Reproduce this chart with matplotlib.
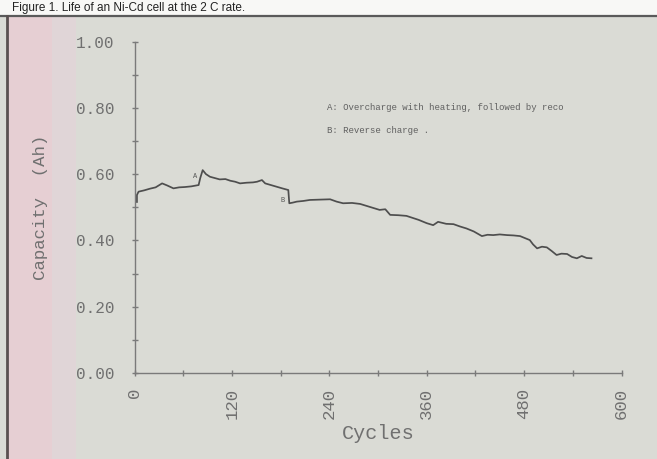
import matplotlib
matplotlib.use("Agg")
import matplotlib.pyplot as plt
from matplotlib.patches import Rectangle
from matplotlib.lines import Line2D

# Capacity vs. cycle life of the test cell
cycles = [3, 3, 5, 12, 19, 26, 34, 40, 48, 55, 62, 70, 79, 81, 84, 88, 93,
          99, 105, 112, 118, 124, 130, 138, 146, 151, 157, 161, 168, 175,
          182, 189.5, 190.7, 195, 200, 208, 216, 228, 241, 249, 257, 268,
          278, 290, 302, 309, 315, 325, 335, 340, 350, 360, 368, 374, 384,
          393, 401, 409, 418, 428, 435, 442, 450, 459, 467, 475, 481, 487,
          491, 496, 502, 508, 514, 520, 526, 533, 539, 545, 551, 557, 563]
capacity = [0.516, 0.537, 0.547, 0.551, 0.556, 0.560, 0.572, 0.566, 0.557,
            0.560, 0.561, 0.563, 0.567, 0.588, 0.612, 0.600, 0.592, 0.588,
            0.584, 0.585, 0.580, 0.577, 0.572, 0.574, 0.575, 0.577, 0.582,
            0.572, 0.567, 0.562, 0.557, 0.552, 0.512, 0.514, 0.517, 0.519,
            0.522, 0.523, 0.524, 0.517, 0.512, 0.513, 0.510, 0.501, 0.492,
            0.494, 0.477, 0.476, 0.474, 0.470, 0.462, 0.452, 0.446, 0.456,
            0.450, 0.449, 0.442, 0.436, 0.427, 0.413, 0.417, 0.416, 0.418,
            0.416, 0.415, 0.413, 0.407, 0.401, 0.388, 0.376, 0.381, 0.379,
            0.368, 0.356, 0.360, 0.359, 0.350, 0.346, 0.353, 0.347, 0.346]

x_ticks = [0, 120, 240, 360, 480, 600]
y_ticks = [0.0, 0.2, 0.4, 0.6, 0.8, 1.0]
y_labels = ["0.00", "0.20", "0.40", "0.60", "0.80", "1.00"]

notes = ["A: Overcharge with heating, followed by reco",
         "B: Reverse charge ."]
caption = "Figure 1. Life of an Ni-Cd cell at the 2 C rate."

W, H = 657, 459
fig = plt.figure(figsize=(W / 100, H / 100), dpi=100)
fig.patch.set_facecolor("#dadbd5")

# paper background: white caption strip, pink tint down the left side
for (x0, y0, w, h, c) in [(0, H - 15, W, 15, "#f8f8f6"),
                          (8, 0, 44, H - 16, "#e6cfd3"),
                          (52, 0, 24, H - 16, "#e0d5d7")]:
    fig.patches.append(Rectangle((x0 / W, y0 / H), w / W, h / H,
                                 transform=fig.transFigure, facecolor=c,
                                 edgecolor="none", zorder=-5))
fig.lines.append(Line2D([0, 1], [1 - 15.5 / H] * 2, transform=fig.transFigure,
                        color="#5a5a5a", lw=1.6, zorder=-4))
fig.lines.append(Line2D([7 / W] * 2, [0, 1 - 15.5 / H], transform=fig.transFigure,
                        color="#5a5050", lw=2.0, zorder=-4))
fig.text(12 / W, 1 - 11 / H, caption, fontsize=8.5, color="#222222",
         family="Liberation Sans", va="baseline", ha="left")

left, right = 134.5 / W, 621.5 / W
bottom, top = 1 - 373 / H, 1 - 41.5 / H
ax = fig.add_axes([left, bottom, right - left, top - bottom])
ax.set_zorder(2)
ax.set_facecolor("none")

ax.plot(cycles, capacity, color="#4e4e4e", lw=1.25)

ax.set_xlim(0, 600)
ax.set_ylim(0, 1.0)
for s in ["top", "right"]:
    ax.spines[s].set_visible(False)
for s in ["left", "bottom"]:
    ax.spines[s].set_color("#7a7a7a")
    ax.spines[s].set_linewidth(1.0)

mono = "Liberation Mono"
ax.set_xticks(x_ticks)
ax.set_xticklabels([str(v) for v in x_ticks], rotation=90, family=mono,
                   fontsize=12.5, color="#707070")
ax.set_xticks(range(60, 600, 120), minor=True)
ax.set_yticks(y_ticks)
ax.set_yticklabels(y_labels, family=mono, fontsize=11.5, color="#707070")
ax.set_yticks([0.1, 0.3, 0.5, 0.7, 0.9], minor=True)
ax.tick_params(which="both", direction="inout", length=5, width=1, color="#7a7a7a")
ax.tick_params(axis="y", which="major", pad=12)
ax.tick_params(axis="x", which="major", pad=8)

ax.set_xlabel("Cycles", family=mono, fontsize=14.5, color="#707070", labelpad=4)
ax.set_ylabel("Capacity  (Ah)", family=mono, fontsize=12.5, color="#707070",
              labelpad=20)

ax.text(75, 0.592, "A", family=mono, fontsize=5, color="#555555", ha="center", va="center")
ax.text(183, 0.519, "B", family=mono, fontsize=5, color="#555555", ha="center", va="center")
ax.text(237, 0.802, notes[0], family=mono, fontsize=6.5, color="#606060", va="center")
ax.text(237, 0.733, notes[1], family=mono, fontsize=6.5, color="#606060", va="center")

fig.savefig("out.png", dpi=100, facecolor=fig.get_facecolor())
